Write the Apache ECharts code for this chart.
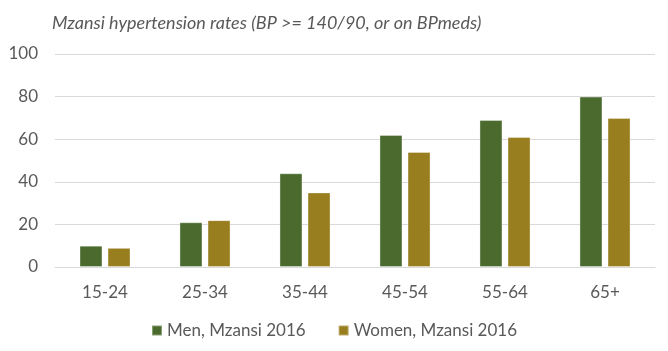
<!DOCTYPE html>
<html><head><meta charset="utf-8">
<script src="https://cdn.jsdelivr.net/npm/echarts@6/dist/echarts.min.js"></script>
<style>html,body{margin:0;padding:0;background:#fff}#c{width:668px;height:351px}</style>
</head><body><div id="c"></div>
<script>
const categories = ['15-24','25-34','35-44','45-54','55-64','65+'];
const menValues = [10, 21, 44, 62, 69, 80];
const womenValues = [9, 22, 35, 54, 61, 70];
const seriesNames = ['Men, Mzansi 2016', 'Women, Mzansi 2016'];
const titleText = 'Mzansi hypertension rates (BP >= 140/90, or on BPmeds)';

const font = 'Lato, "Open Sans", sans-serif';
const chart = echarts.init(document.getElementById('c'));
chart.setOption({
  animation: false,
  title: { text: titleText, left: 47, top: 9,
    textStyle: { fontFamily: font, fontStyle: 'italic', fontWeight: 'normal', fontSize: 18, color: '#595959' } },
  legend: { top: 317, left: 'center', itemWidth: 10, itemHeight: 10, itemGap: 32, icon: 'rect',
    textStyle: { fontFamily: font, fontSize: 17, color: '#595959' } },
  grid: { left: 55, right: 13, top: 54, bottom: 84, outerBoundsMode: 'none' },
  xAxis: { type: 'category', data: categories,
    axisLine: { lineStyle: { color: '#d9d9d9' } }, axisTick: { show: false },
    axisLabel: { fontFamily: font, fontSize: 17, color: '#595959', margin: 17 } },
  yAxis: { type: 'value', min: 0, max: 100, interval: 20,
    axisLine: { show: false }, axisTick: { show: false },
    splitLine: { lineStyle: { color: '#d9d9d9' } },
    axisLabel: { fontFamily: font, fontSize: 17, color: '#595959', margin: 17 } },
  series: [
    { name: seriesNames[0], type: 'bar', data: menValues, barWidth: 23, barGap: '22%',
      itemStyle: { color: '#4a6b2d', borderColor: 'rgba(255,255,255,0.35)', borderWidth: 1 } },
    { name: seriesNames[1], type: 'bar', data: womenValues, barWidth: 23,
      itemStyle: { color: '#987e1e', borderColor: 'rgba(255,255,255,0.35)', borderWidth: 1 } }
  ]
});
</script></body></html>
